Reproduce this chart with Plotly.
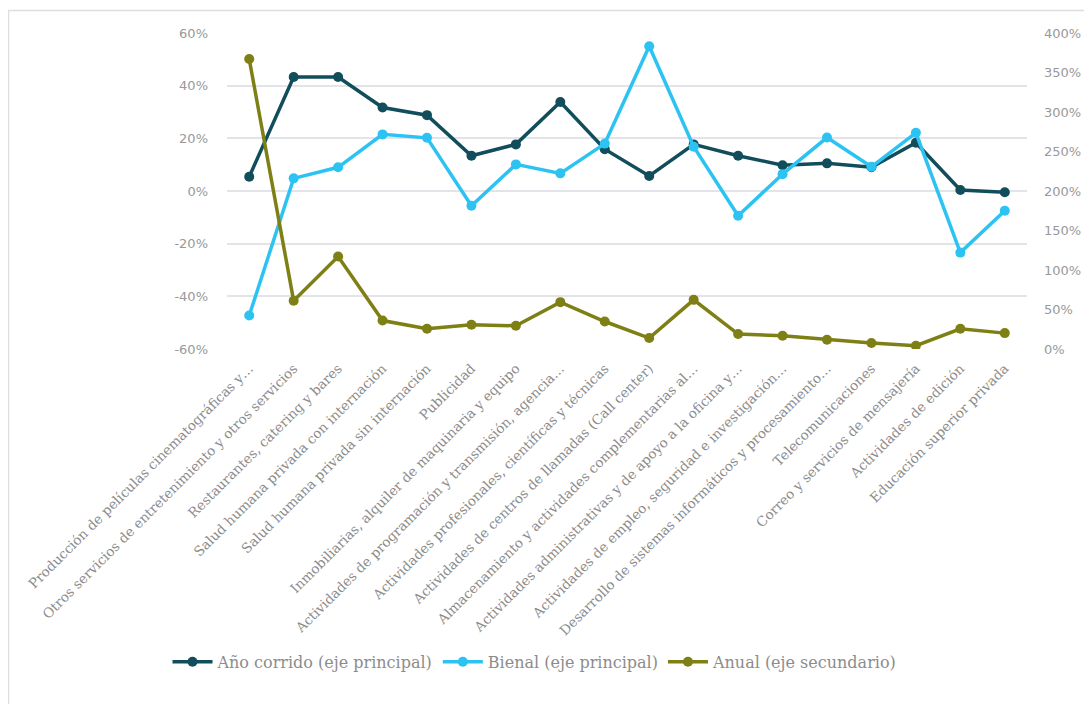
import plotly.graph_objects as go

categorias = [
    "Producción de películas cinematográficas y…",
    "Otros servicios de entretenimiento y otros servicios",
    "Restaurantes, catering y bares",
    "Salud humana privada con internación",
    "Salud humana privada sin internación",
    "Publicidad",
    "Inmobiliarias, alquiler de maquinaria y equipo",
    "Actividades de programación y transmisión, agencia…",
    "Actividades profesionales, científicas y técnicas",
    "Actividades de centros de llamadas (Call center)",
    "Almacenamiento y actividades complementarias al…",
    "Actividades administrativas y de apoyo a la oficina y…",
    "Actividades de empleo, seguridad e investigación…",
    "Desarrollo de sistemas informáticos y procesamiento…",
    "Telecomunicaciones",
    "Correo y servicios de mensajería",
    "Actividades de edición",
    "Educación superior privada",
]

anio_corrido = [5.4, 43.3, 43.3, 31.7, 28.8, 13.4, 17.7, 33.8, 15.9, 5.7,
                17.7, 13.4, 9.8, 10.5, 9.0, 18.3, 0.4, -0.5]
bienal = [-47.3, 4.8, 9.0, 21.5, 20.2, -5.6, 10.1, 6.7, 18.0, 55.0,
          16.8, -9.4, 6.4, 20.3, 9.2, 22.1, -23.4, -7.5]
anual = [367, 61, 117, 36, 25.6, 30.7, 29.4, 59.3, 34.8, 13.9,
         62.2, 18.9, 16.8, 11.7, 7.6, 4.2, 25.6, 20.1]

left_ticks = [-60, -40, -20, 0, 20, 40, 60]
right_ticks = [0, 50, 100, 150, 200, 250, 300, 350, 400]

C_ANIO = "#114d5b"
C_BIEN = "#2cc3f3"
C_ANUAL = "#7e7f14"

fig = go.Figure()
fig.add_trace(go.Scatter(
    x=categorias, y=anio_corrido, name="Año corrido (eje principal)",
    mode="lines+markers", line=dict(color=C_ANIO, width=3.5),
    marker=dict(color=C_ANIO, size=10), yaxis="y"))
fig.add_trace(go.Scatter(
    x=categorias, y=bienal, name="Bienal (eje principal)",
    mode="lines+markers", line=dict(color=C_BIEN, width=3.5),
    marker=dict(color=C_BIEN, size=10), yaxis="y"))
fig.add_trace(go.Scatter(
    x=categorias, y=anual, name="Anual (eje secundario)",
    mode="lines+markers", line=dict(color=C_ANUAL, width=3.5),
    marker=dict(color=C_ANUAL, size=10), yaxis="y2"))

tick_font = dict(family="DejaVu Sans, sans-serif", size=13, color="#999999")
serif_font = dict(family="DejaVu Serif, serif", size=13.5, color="#8c8c8c")

L, R_EDGE, T, B_EDGE = 219, 1019, 24.5, 341.3
W = R_EDGE - L
H = B_EDGE - T

fig.update_layout(
    width=1092, height=704,
    margin=dict(l=L, r=1092 - R_EDGE, t=T, b=704 - B_EDGE),
    paper_bgcolor="white", plot_bgcolor="white",
    showlegend=True,
    legend=dict(orientation="h", x=0.385, xanchor="center", y=-0.99, yanchor="middle",
                font=dict(family="DejaVu Serif, serif", size=16, color="#8c8c8c"),
                itemwidth=40),
    xaxis=dict(type="category", tickangle=-45, tickfont=serif_font,
               showgrid=False, showline=False, zeroline=False, ticks="",
               range=[-0.5, 17.5], ticklabelstandoff=8),
    yaxis=dict(range=[-60, 60], tickvals=left_ticks,
               ticktext=[f"{v}%" for v in left_ticks],
               tickfont=tick_font, showgrid=True, gridcolor="#e3e3ea", gridwidth=1.5,
               zeroline=False, showline=False, ticks="", ticklabelstandoff=18),
    yaxis2=dict(range=[0, 400], tickvals=right_ticks,
                ticktext=[f"{v}%" for v in right_ticks],
                overlaying="y", side="right", tickfont=tick_font,
                showgrid=False, zeroline=False, showline=False, ticks="",
                ticklabelstandoff=16),
)

# light frame around the chart
fig.add_shape(type="rect", xref="paper", yref="paper",
              x0=(0.5 - L) / W, x1=(1120 - L) / W,
              y0=(B_EDGE - 730) / H, y1=(B_EDGE - 2) / H,
              line=dict(color="#dedede", width=1.5), layer="below")

fig.write_html("out.html")
